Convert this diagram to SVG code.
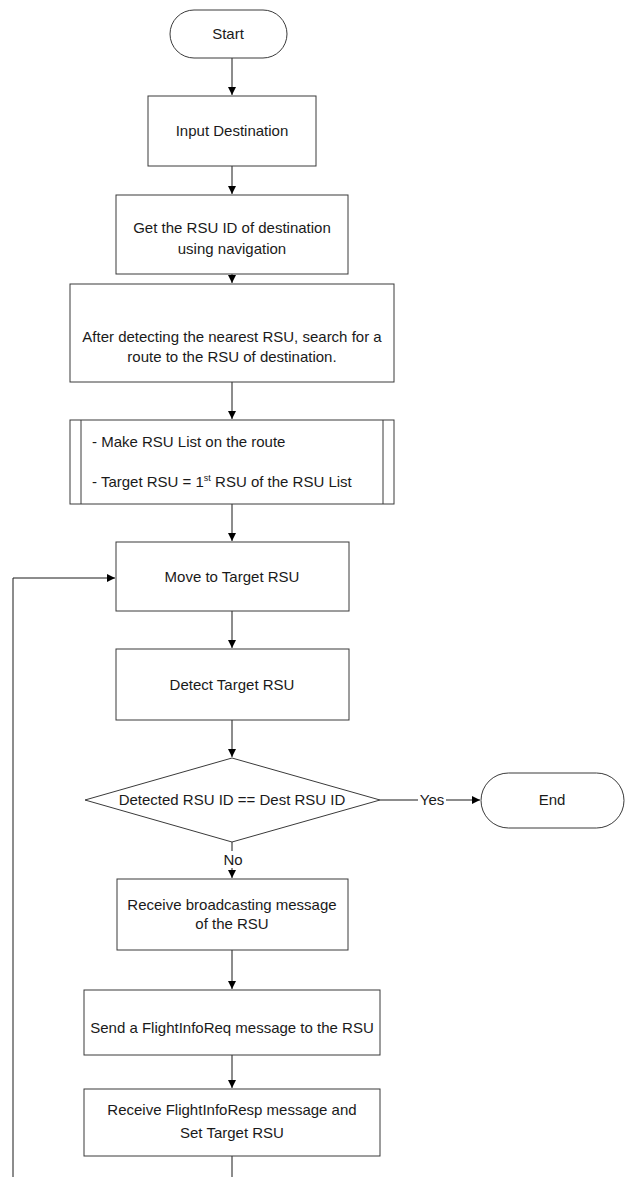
<svg xmlns="http://www.w3.org/2000/svg" width="628" height="1177" viewBox="0 0 628 1177">
  <style>
    .box { fill: #ffffff; stroke: #3a3a3a; stroke-width: 1; }
    .lbl { font-family: "Liberation Sans", Arial, sans-serif; font-size: 15px; fill: #1a1a1a; text-anchor: middle; }
    .edge { fill: none; stroke: #1a1a1a; stroke-width: 1; }
  </style>
  <defs>
    <marker id="arrow" markerWidth="9" markerHeight="9" refX="8" refY="4" orient="auto" markerUnits="userSpaceOnUse">
      <path d="M0,0 L8,4 L0,8 Z" fill="#000000"/>
    </marker>
  </defs>
  <rect width="628" height="1177" fill="#ffffff"/>

  <!-- connectors -->
  <g id="connectors">
    <line class="edge" x1="232" y1="58" x2="232" y2="95" marker-end="url(#arrow)"/>
    <line class="edge" x1="232" y1="166" x2="232" y2="194" marker-end="url(#arrow)"/>
    <line class="edge" x1="232" y1="274" x2="232" y2="283" marker-end="url(#arrow)"/>
    <line class="edge" x1="232" y1="382" x2="232" y2="419" marker-end="url(#arrow)"/>
    <line class="edge" x1="232" y1="504" x2="232" y2="541" marker-end="url(#arrow)"/>
    <line class="edge" x1="232" y1="611" x2="232" y2="648" marker-end="url(#arrow)"/>
    <line class="edge" x1="232" y1="720" x2="232" y2="757" marker-end="url(#arrow)"/>
    <line class="edge" x1="380" y1="800" x2="418" y2="800"/>
    <line class="edge" x1="446" y1="800" x2="480" y2="800" marker-end="url(#arrow)"/>
    <line class="edge" x1="232" y1="842" x2="232" y2="851"/>
    <line class="edge" x1="232" y1="868" x2="232" y2="878" marker-end="url(#arrow)"/>
    <line class="edge" x1="232" y1="950" x2="232" y2="989" marker-end="url(#arrow)"/>
    <line class="edge" x1="232" y1="1055" x2="232" y2="1088" marker-end="url(#arrow)"/>
    <line class="edge" x1="232" y1="1156" x2="232" y2="1177"/>
    <polyline class="edge" points="13,1177 13,578 115,578" marker-end="url(#arrow)"/>
    <text class="lbl" x="432" y="805">Yes</text>
    <text class="lbl" x="233" y="865">No</text>
  </g>

  <g id="start">
    <rect class="box" x="170" y="10" width="117" height="48" rx="24" ry="24"/>
    <text class="lbl" x="228" y="39">Start</text>
  </g>

  <g id="input-destination">
    <rect class="box" x="148" y="96" width="168" height="70"/>
    <text class="lbl" x="232" y="136">Input Destination</text>
  </g>

  <g id="get-rsu-id">
    <rect class="box" x="116" y="195" width="232" height="79"/>
    <text class="lbl" x="232" y="233">Get the RSU ID of destination</text>
    <text class="lbl" x="232" y="254">using navigation</text>
  </g>

  <g id="search-route">
    <rect class="box" x="70" y="284" width="324" height="98"/>
    <text class="lbl" x="232" y="342">After detecting the nearest RSU, search for a</text>
    <text class="lbl" x="232" y="362">route to the RSU of destination.</text>
  </g>

  <g id="make-rsu-list">
    <rect class="box" x="70" y="420" width="324" height="84"/>
    <line class="box" x1="81" y1="420" x2="81" y2="504"/>
    <line class="box" x1="383" y1="420" x2="383" y2="504"/>
    <text class="lbl" x="92" y="447" style="text-anchor:start">- Make RSU List on the route</text>
    <text class="lbl" x="92" y="487" style="text-anchor:start">- Target RSU = 1<tspan font-size="9" dy="-6">st</tspan><tspan dy="6"> RSU of the RSU List</tspan></text>
  </g>

  <g id="move-to-target">
    <rect class="box" x="116" y="542" width="233" height="69"/>
    <text class="lbl" x="232" y="582">Move to Target RSU</text>
  </g>

  <g id="detect-target">
    <rect class="box" x="116" y="649" width="233" height="71"/>
    <text class="lbl" x="232" y="690">Detect Target RSU</text>
  </g>

  <g id="decision">
    <polygon class="box" points="232,758 380,800 232,842 85,800"/>
    <text class="lbl" x="232" y="805">Detected RSU ID == Dest RSU ID</text>
  </g>

  <g id="end">
    <rect class="box" x="481" y="773" width="143" height="55" rx="27.5" ry="27.5"/>
    <text class="lbl" x="552" y="805">End</text>
  </g>

  <g id="receive-broadcast">
    <rect class="box" x="117" y="879" width="231" height="71"/>
    <text class="lbl" x="232" y="910">Receive broadcasting message</text>
    <text class="lbl" x="232" y="929">of the RSU</text>
  </g>

  <g id="send-request">
    <rect class="box" x="84" y="990" width="296" height="65"/>
    <text class="lbl" x="232" y="1033">Send a FlightInfoReq message to the RSU</text>
  </g>

  <g id="receive-response">
    <rect class="box" x="84" y="1089" width="296" height="67"/>
    <text class="lbl" x="232" y="1115">Receive FlightInfoResp message and</text>
    <text class="lbl" x="232" y="1138">Set Target RSU</text>
  </g>
</svg>
